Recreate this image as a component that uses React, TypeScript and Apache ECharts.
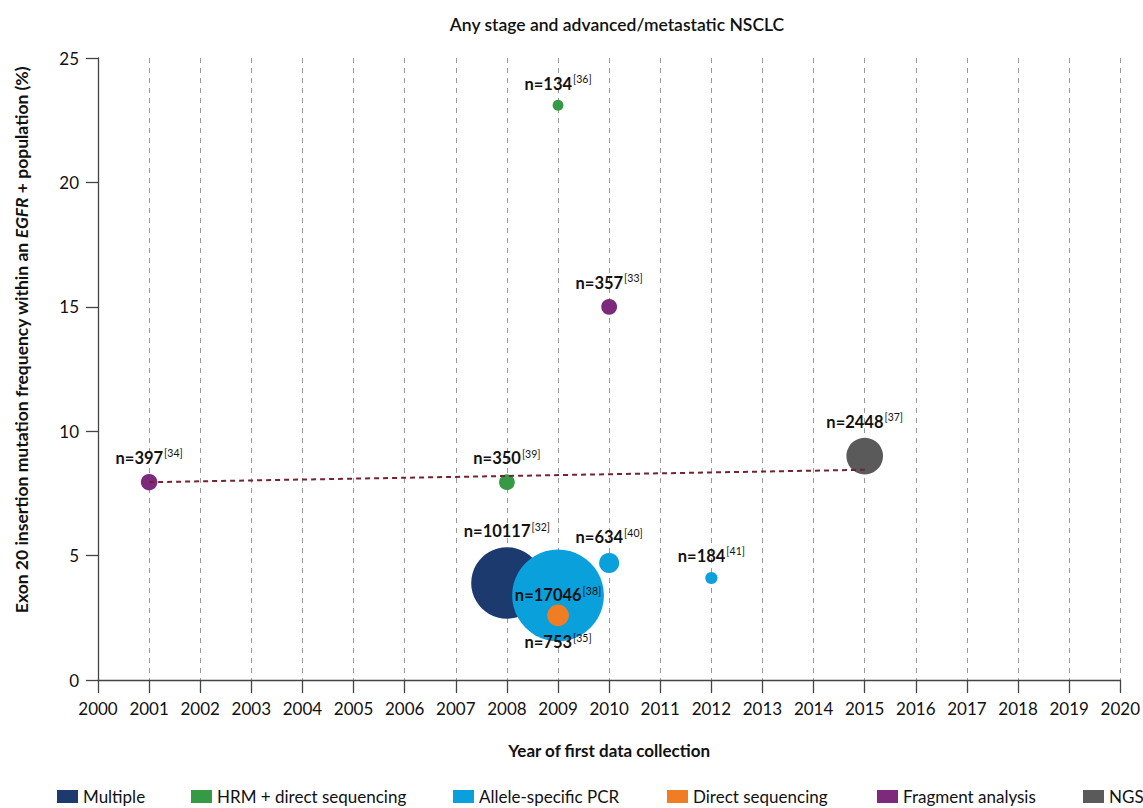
import React, { useEffect, useRef } from "react";
import * as echarts from "echarts";

const methods = [
  "Multiple",
  "HRM + direct sequencing",
  "Allele-specific PCR",
  "Direct sequencing",
  "Fragment analysis",
  "NGS",
];
const methodColors = ["#1d3a6e", "#359a45", "#0aa0dc", "#f07d24", "#7d2a7d", "#5a5a5a"];

// study points
const pointMethod = [0, 1, 1, 2, 2, 2, 3, 4, 4, 5];
const pointYear = [2008, 2008, 2009, 2009, 2010, 2012, 2009, 2001, 2010, 2015];
const pointFreq = [3.9, 7.95, 23.1, 3.4, 4.7, 4.1, 2.6, 7.95, 15.0, 9.0];
const pointN = [10117, 350, 134, 17046, 634, 184, 753, 397, 357, 2448];
const pointRef = [32, 39, 36, 38, 40, 41, 35, 34, 33, 37];

// trend line
const trendYears = [2001, 2015];
const trendFreq = [7.95, 8.45];

const xTicks = { min: 2000, max: 2020, step: 1 };
const yTicks = { min: 0, max: 25, step: 5 };

const labelPlacement: Record<number, string> = { 17046: "inside", 753: "bottom" };
const legendLeft = [57, 191, 453, 667, 877, 1083];

const FONT = "Lato";

export default function App() {
  const ref = useRef<HTMLDivElement>(null);
  useEffect(() => {
    const chart = echarts.init(ref.current!, null, { renderer: "svg" });
    const series: any[] = methods.map((m, mi) => ({
      name: m,
      type: "scatter",
      z: 3,
      itemStyle: { color: methodColors[mi], opacity: 1 },
      data: pointMethod
        .map((pm, i) => ({ pm, i }))
        .filter((o) => o.pm === mi)
        .map(({ i }) => ({
          value: [pointYear[i], pointFreq[i]],
          n: pointN[i],
          ref: pointRef[i],
          symbolSize: 0.68 * Math.sqrt(pointN[i]) + 3,
          label: {
            show: true,
            position: labelPlacement[pointN[i]] || "top",
            distance: 6,
          },
        })),
      label: {
        show: true,
        formatter: (p: any) => `{n|n=${p.data.n}}{s|[${p.data.ref}]}`,
        rich: {
          n: { fontFamily: FONT, fontSize: 16.5, fontWeight: 700, color: "#111", lineHeight: 20 },
          s: { fontFamily: FONT, fontSize: 10.5, color: "#111", verticalAlign: "top", lineHeight: 20, padding: [0, 0, 0, 1] },
        },
      },
    }));
    series.push({
      name: "trend",
      type: "line",
      z: 4,
      symbol: "none",
      silent: true,
      lineStyle: { color: "#74232f", width: 2, type: [5, 4] },
      data: trendYears.map((y, i) => [y, trendFreq[i]]),
    });

    chart.setOption({
      animation: false,
      textStyle: { fontFamily: FONT },
      title: {
        text: "Any stage and advanced/metastatic NSCLC",
        left: 612,
        textAlign: "center",
        top: 10,
        textStyle: { fontFamily: FONT, fontSize: 17.5, fontWeight: 600, color: "#111" },
      },
      graphic: [
        {
          type: "text",
          x: 21,
          y: 340,
          rotation: Math.PI / 2,
          style: {
            text: "{a|Exon 20 insertion mutation frequency within an }{i|EGFR}{a| + population (%)}",
            align: "center",
            verticalAlign: "middle",
            rich: {
              a: { fontFamily: FONT, fontSize: 17.5, fontWeight: 700, fill: "#111" },
              i: { fontFamily: FONT, fontSize: 17.5, fontWeight: 700, fontStyle: "italic", fill: "#111" },
            },
          },
        },
      ],
      legend: methods.map((m, mi) => ({
        data: [m],
        left: legendLeft[mi],
        top: 788,
        padding: 0,
        itemWidth: 21,
        itemHeight: 13,
        itemGap: 0,
        selectedMode: false,
        icon: "rect",
        textStyle: { fontFamily: FONT, fontSize: 17, color: "#111" },
      })),
      grid: { left: 98, right: 21, top: 58, bottom: 128, containLabel: false },
      xAxis: {
        type: "value",
        min: xTicks.min,
        max: xTicks.max,
        interval: xTicks.step,
        name: "Year of first data collection",
        nameLocation: "middle",
        nameGap: 62,
        nameTextStyle: { fontFamily: FONT, fontSize: 17, fontWeight: 700, color: "#111" },
        axisLine: { onZero: false, lineStyle: { color: "#444", width: 1.3 } },
        axisTick: { show: true, length: 13, lineStyle: { color: "#444", width: 1.3 } },
        axisLabel: { margin: 20, fontSize: 17, color: "#111", fontFamily: FONT, formatter: (v: number) => String(v) },
        splitLine: { show: true, lineStyle: { color: "#999", type: [5, 5], width: 1 } },
      },
      yAxis: {
        type: "value",
        min: yTicks.min,
        max: yTicks.max,
        interval: yTicks.step,
        axisLine: { show: true, lineStyle: { color: "#444", width: 1.3 } },
        axisTick: { show: true, length: 12, lineStyle: { color: "#444", width: 1.3 } },
        axisLabel: { margin: 19, fontSize: 17, color: "#111", fontFamily: FONT },
        splitLine: { show: false },
      },
      series,
    });
    return () => chart.dispose();
  }, []);
  return <div ref={ref} style={{ width: 1143, height: 808, position: "absolute", left: 0, top: 0 }} />;
}
